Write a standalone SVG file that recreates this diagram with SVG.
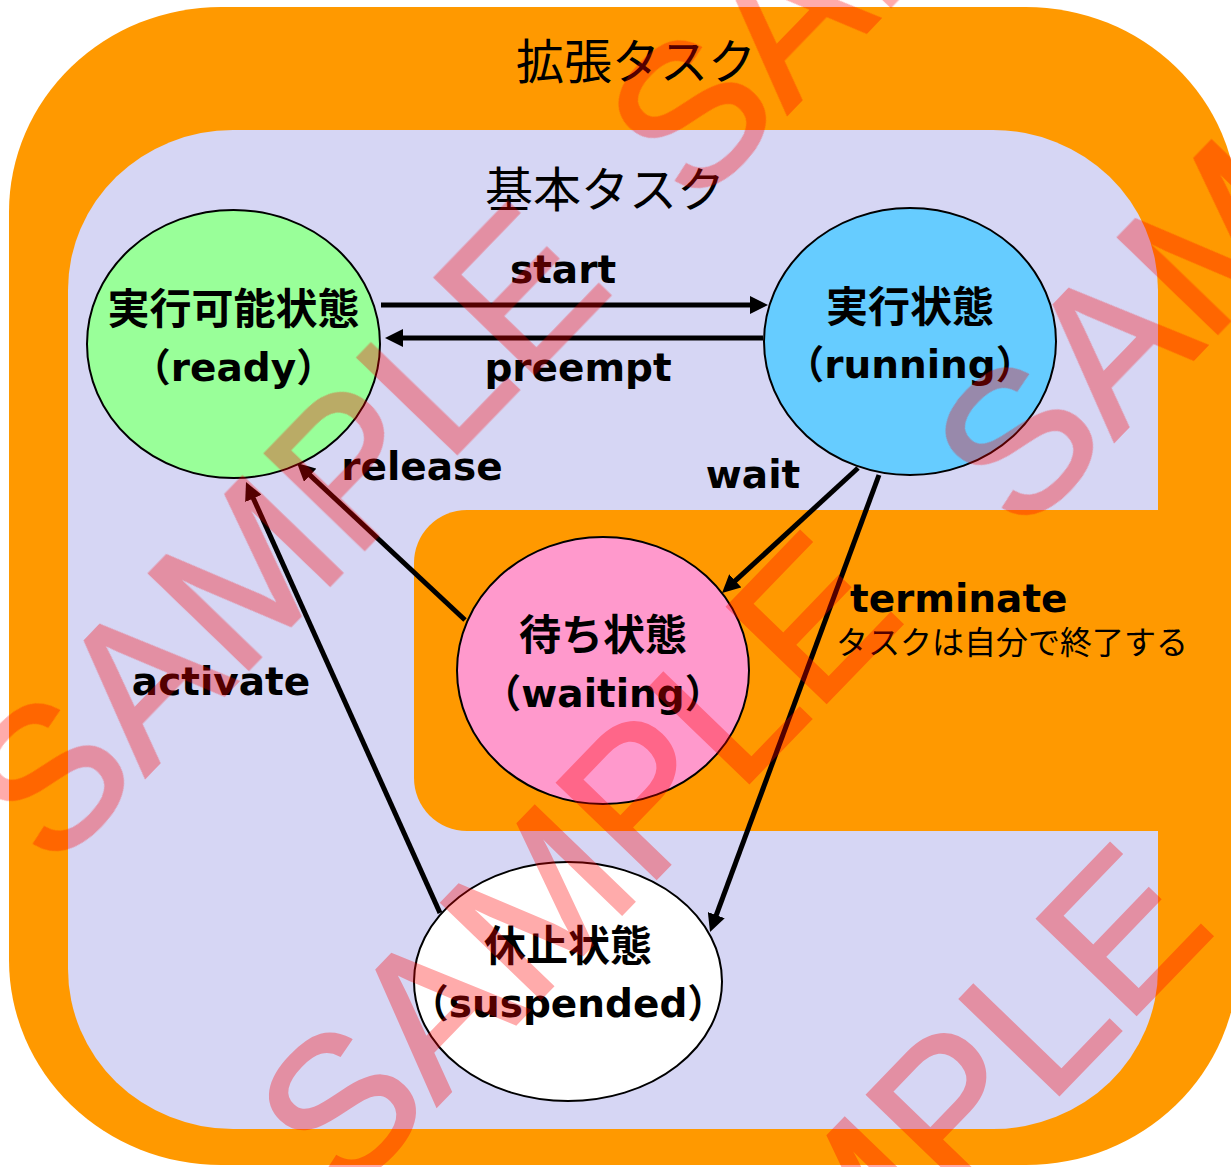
<svg xmlns="http://www.w3.org/2000/svg" width="1231" height="1167" viewBox="0 0 1231 1167">
<style>
  .bg-orange { fill: #FF9900; }
  .bg-lav { fill: #D6D6F4; }
  .state { stroke: #000; stroke-width: 2; }
  .jp-bold { font-family: "Noto Sans CJK JP", sans-serif; font-weight: 700; font-size: 42px; fill: #000; text-anchor: middle; }
  .en-bold { font-family: "DejaVu Sans", "Noto Sans CJK JP", sans-serif; font-weight: 700; font-size: 39px; fill: #000; text-anchor: middle; }
  .lbl { font-family: "DejaVu Sans", sans-serif; font-weight: 700; font-size: 39px; fill: #000; }
  .title { font-family: "Noto Sans CJK JP", sans-serif; font-weight: 400; font-size: 48px; fill: #000; text-anchor: middle; }
  .note { font-family: "Noto Sans CJK JP", sans-serif; font-weight: 400; font-size: 32px; fill: #000; }
  .conn { stroke: #000; stroke-width: 5; fill: none; marker-end: url(#arrow); }
  .wm { font-family: "Liberation Sans", Arial, sans-serif; font-size: 200px; text-anchor: middle; fill: #FF0000; stroke: #FF0000; stroke-width: 3; }
</style>
<defs>
  <marker id="arrow" markerUnits="userSpaceOnUse" markerWidth="18" markerHeight="18" refX="8" refY="9" orient="auto">
    <path d="M0,0 L18,9 L0,18 Z" fill="#000"/>
  </marker>
</defs>

<g id="containers">
  <rect id="extended-task" class="bg-orange" x="9" y="7" width="1229" height="1158" rx="212" ry="205"/>
  <rect id="basic-task" class="bg-lav" x="68" y="130" width="1090" height="999" rx="165" ry="160"/>
  <path id="extended-notch" class="bg-orange" d="M1200,510 H467 A53,53 0 0 0 414,563 V778 A53,53 0 0 0 467,831 H1200 Z"/>
  <text class="title" x="636" y="79">拡張タスク</text>
  <text class="title" x="605" y="207">基本タスク</text>
</g>

<g id="connectors">
  <g id="edge-start">
    <line class="conn" x1="381" y1="305" x2="758" y2="305"/>
    <text class="lbl" x="563" y="283" text-anchor="middle">start</text>
  </g>
  <g id="edge-preempt">
    <line class="conn" x1="763" y1="338" x2="395" y2="338"/>
    <text class="lbl" x="578" y="381" text-anchor="middle">preempt</text>
  </g>
  <g id="edge-release">
    <line class="conn" x1="465" y1="620" x2="304.3" y2="469.8"/>
    <text class="lbl" x="422" y="480" text-anchor="middle">release</text>
  </g>
  <g id="edge-wait">
    <line class="conn" x1="858" y1="468" x2="729.4" y2="586.2"/>
    <text class="lbl" x="753" y="488" text-anchor="middle">wait</text>
  </g>
  <g id="edge-terminate">
    <line class="conn" x1="879" y1="475" x2="713.5" y2="922.6"/>
    <text class="lbl" x="850" y="612">terminate</text>
    <text class="note" x="836" y="654">タスクは自分で終了する</text>
  </g>
  <g id="edge-activate">
    <line class="conn" x1="440" y1="913" x2="250.1" y2="491.1"/>
    <text class="lbl" x="221" y="695" text-anchor="middle">activate</text>
  </g>
</g>

<g id="node-ready">
  <ellipse class="state" cx="233.5" cy="344" rx="146.5" ry="134" fill="#99FF99"/>
  <text class="jp-bold" x="233.5" y="324">実行可能状態</text>
  <text class="en-bold" x="233.5" y="381">（ready）</text>
</g>
<g id="node-running">
  <ellipse class="state" cx="910" cy="341.5" rx="146" ry="133.5" fill="#66CCFF"/>
  <text class="jp-bold" x="910" y="322">実行状態</text>
  <text class="en-bold" x="910" y="378">（running）</text>
</g>
<g id="node-waiting">
  <ellipse class="state" cx="603" cy="670.5" rx="146" ry="133.5" fill="#FF99CC"/>
  <text class="jp-bold" x="603" y="650">待ち状態</text>
  <text class="en-bold" x="603" y="707">（waiting）</text>
</g>
<g id="node-suspended">
  <ellipse class="state" cx="568" cy="981.5" rx="154" ry="119.5" fill="#FFFFFF"/>
  <text class="jp-bold" x="568" y="961">休止状態</text>
  <text class="en-bold" x="568" y="1017">（suspended）</text>
</g>

<g id="watermark" opacity="0.33">
  <text class="wm" transform="translate(334,581) rotate(-46)">SAMPLE</text>
  <text class="wm" transform="translate(976,-82) rotate(-46)">SAMPLE</text>
  <text class="wm" transform="translate(1303,245) rotate(-46)">SAMPLE</text>
  <text class="wm" transform="translate(626,910) rotate(-46)">SAMPLE</text>
  <text class="wm" transform="translate(936,1222) rotate(-46)">SAMPLE</text>
</g>
</svg>
